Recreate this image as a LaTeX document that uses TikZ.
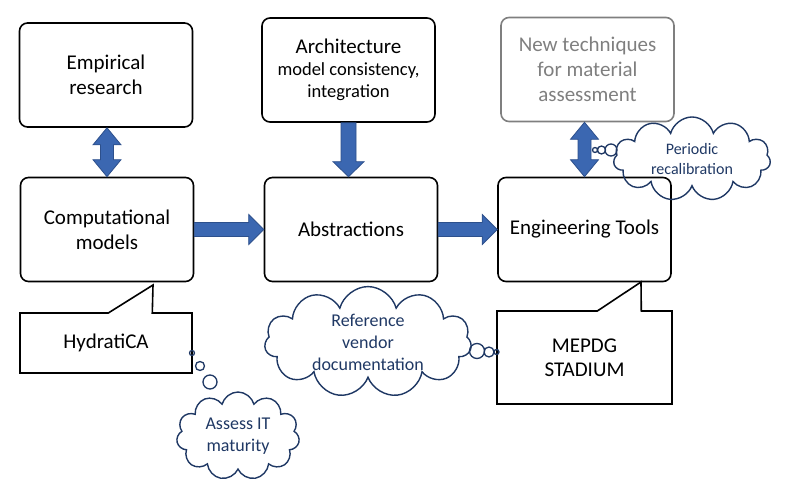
\documentclass[tikz,border=0pt]{standalone}
\usepackage{fontspec}
\setmainfont{Carlito}
\usetikzlibrary{calc,shapes.symbols,shapes.callouts}

% block arrow pointing right, from east of #1 to west of #2
\newcommand{\rightblock}[2]{%
  \draw[blockarrow] let \p1=(#1.east), \p2=(#2.west) in
    (\x1,\y1+7pt) -- (\x2-15pt,\y1+7pt) -- (\x2-15pt,\y1+15pt) -- (\x2,\y1)
    -- (\x2-15pt,\y1-15pt) -- (\x2-15pt,\y1-7pt) -- (\x1,\y1-7pt) -- cycle;}
% block arrow pointing down, from south of #1 to north of #2
\newcommand{\downblock}[2]{%
  \draw[blockarrow] let \p1=(#1.south), \p2=(#2.north) in
    (\x1-7.5pt,\y1) -- (\x1-7.5pt,\y2+15pt) -- (\x1-15.5pt,\y2+15pt) -- (\x1,\y2)
    -- (\x1+15.5pt,\y2+15pt) -- (\x1+7.5pt,\y2+15pt) -- (\x1+7.5pt,\y1) -- cycle;}
% block arrow with two heads, between south of #1 and north of #2
\newcommand{\updownblock}[2]{%
  \draw[blockarrow] let \p1=(#1.south), \p2=(#2.north) in
    (\x2,\y1) -- (\x2+14pt,\y1-17pt) -- (\x2+6.5pt,\y1-17pt) -- (\x2+6.5pt,\y2+17pt)
    -- (\x2+14pt,\y2+17pt) -- (\x2,\y2) -- (\x2-14pt,\y2+17pt) -- (\x2-6.5pt,\y2+17pt)
    -- (\x2-6.5pt,\y1-17pt) -- (\x2-14pt,\y1-17pt) -- cycle;}

\begin{document}
\begin{tikzpicture}[x=1pt,y=-1pt,
  box/.style={draw, rounded corners=8pt, line width=1.6pt, align=center,
    minimum width=173pt, minimum height=104pt, inner sep=2pt,
    font=\fontsize{21pt}{25pt}\selectfont},
  callbox/.style={draw, rectangle callout, line width=1.6pt, align=center,
    callout pointer width=44pt, inner sep=2pt,
    font=\fontsize{21pt}{24pt}\selectfont},
  thought/.style={draw=cloudcol, cloud, cloud puffs=11, cloud ignores aspect,
    line width=1.4pt, text=cloudcol, align=center, inner sep=0pt,
    font=\fontsize{18pt}{22pt}\selectfont},
  bubble/.style={draw=cloudcol, line width=1.3pt},
  blockarrow/.style={fill=arrowfill, draw=arrowline, line width=0.8pt}]
% Define colours
\definecolor{cloudcol}{RGB}{31,56,100}     % dark navy
\definecolor{graycol}{RGB}{127,127,127}    % grey
\definecolor{arrowfill}{RGB}{59,103,177}   % blue
\definecolor{arrowline}{RGB}{45,80,140}    % darker blue

\useasboundingbox (0,0) rectangle (785,492);

% Boxes, top row
\node[box] (emp) at (106,75) {Empirical\\research};
\node[box] (arch) at (348.5,70) {Architecture\\[-3pt]
  {\fontsize{18.5pt}{22pt}\selectfont model consistency,}\\[-3pt]
  {\fontsize{18.5pt}{22pt}\selectfont integration}};
\node[box, draw=graycol, text=graycol] (newt) at (587.5,69.5)
  {New techniques\\for material\\assessment};

% Boxes, middle row
\node[box] (comp) at (107,229.5) {Computational\\models};
\node[box] (abs) at (351,229.5) {Abstractions};
\node[box] (eng) at (584.5,229.5) {Engineering Tools};

% Arrows
\updownblock{emp}{comp}
\updownblock{newt}{eng}
\downblock{arch}{abs}
\rightblock{comp}{abs}
\rightblock{eng.west-|abs}{eng}

% Callouts
\node[callbox, minimum width=172pt, minimum height=60pt,
  callout absolute pointer={(153,285)}] (hyd) at (106,343) {HydratiCA};
\node[callbox, minimum width=175pt, minimum height=93pt,
  callout absolute pointer={(641,282)}] (mepdg) at (584.5,357.5) {MEPDG\\STADIUM};

% Clouds
\node[thought, minimum width=207pt, minimum height=95pt] (refcloud) at (368,342)
  {Reference\\vendor\\documentation};
\node[thought, minimum width=123pt, minimum height=88pt] (itcloud) at (238,436)
  {Assess IT\\maturity};
\node[thought, minimum width=157pt, minimum height=84pt,
  font=\fontsize{16pt}{20pt}\selectfont] (recalcloud) at (692,159)
  {Periodic\\recalibration};

% Thought bubbles
\draw[bubble] (192,353) circle (2.5) (200,366) circle (4.5) (210,382) circle (7);
\draw[bubble] (477,351) circle (7.5) (489,352) circle (5) (496.5,352) circle (2.5);
\draw[bubble] (611,150) circle (6) (601.5,150) circle (4) (595,150) circle (2.5);
\end{tikzpicture}
\end{document}
